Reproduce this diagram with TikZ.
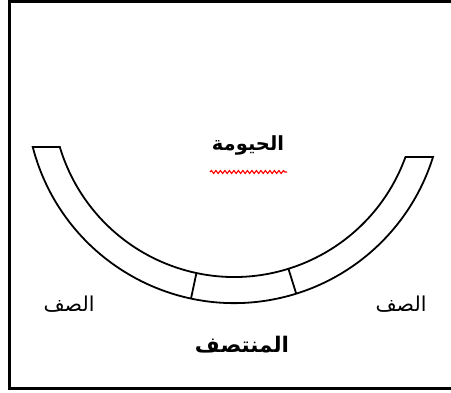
\documentclass[tikz,border=0pt]{standalone}
\usepackage{fontspec}
\newfontfamily\arabicfont[Script=Arabic]{DejaVu Sans}
\TeXXeTstate=1
\usetikzlibrary{decorations.pathmorphing,calc}
\begin{document}
\begin{tikzpicture}[x=1pt,y=1pt,
  ring/.style={draw=black,line width=1.8pt,line join=miter},
  lbl/.style={font=\arabicfont, inner sep=0pt}]
\useasboundingbox (0,0) rectangle (451,392);
% frame
\draw[line width=2.6pt] (9.5,3.5) rectangle (453,390.5);
% ring segment
\coordinate (C) at (234.3,297.1);
\draw[ring] ($(C)+(194.5:208.2)$) arc[start angle=194.5,end angle=342.65,radius=208.2]
  -- ($(C)+(340.06:182.1)$) arc[start angle=340.06,end angle=196.6,radius=182.1] -- cycle;
\draw[ring] ($(C)+(258:182.1)$) coordinate (s1a) -- ($(C)+(258:208.2)$) coordinate (s1b);
\draw[ring] ($(C)+(287.3:182.1)$) coordinate (s2a) -- ($(C)+(287.3:208.2)$) coordinate (s2b);
% labels
\node[lbl,font=\arabicfont\bfseries\fontsize{19.5}{24}\selectfont] (top) at (248,247) {\beginR الحيومة\endR};
\coordinate (sqa) at (210,220);
\coordinate (sqb) at (287,220);
\draw[red,line width=1.1pt,decorate,decoration={snake,amplitude=1.5pt,segment length=4.5pt}] (sqa) -- (sqb);
\node[lbl,font=\arabicfont\bfseries\fontsize{21.5}{26}\selectfont] (mid) at (242,47) {\beginR المنتصف\endR};
\node[lbl,font=\arabicfont\fontsize{20.5}{24}\selectfont] (left) at (69,88) {\beginR الصف\endR};
\node[lbl,font=\arabicfont\fontsize{20.5}{24}\selectfont] (right) at (401,88) {\beginR الصف\endR};
\end{tikzpicture}
\end{document}
